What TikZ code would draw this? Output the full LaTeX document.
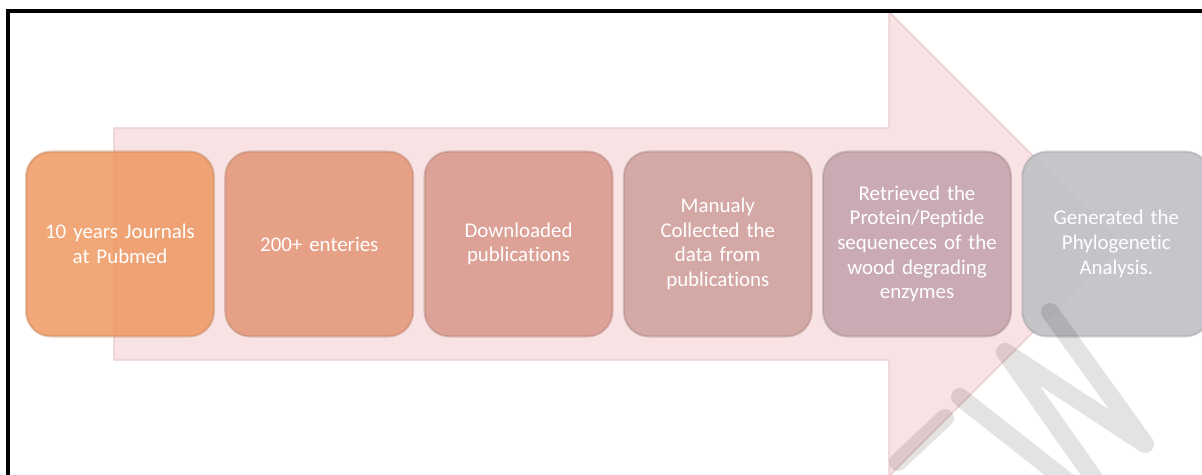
\documentclass[tikz,border=0pt]{standalone}
\usepackage{fontspec}
\setmainfont{Carlito}[Ligatures=NoCommon]
\usetikzlibrary{
  positioning
}
\definecolor{arrowpink}{HTML}{F9E2E3}
\definecolor{arrowedge}{HTML}{E9CDCE}
\definecolor{stageA}{HTML}{EF9D68}
\definecolor{stageB}{HTML}{E4997C}
\definecolor{stageC}{HTML}{D99B8F}
\definecolor{stageD}{HTML}{D0A29F}
\definecolor{stageE}{HTML}{C6A6AE}
\definecolor{stageF}{HTML}{C0BFC6}
\tikzset{
  % For the big arrow behind the stages.
  big arrow/.style={
    fill=arrowpink,
    draw=arrowedge,
    line width=0.8pt},
%
  % For the process stages.
  stagebox/.style={
    rectangle,
    rounded corners=0.5cm,
    fill=#1,
    draw=#1!75!black,
    line width=1.2pt,
    fill opacity=0.9,
    draw opacity=0.35,
    text opacity=1,
    text=white,
    minimum width=3.76cm,
    minimum height=3.7cm,
    text width=3.6cm,
    align=center,
    inner sep=0pt,
    outer sep=0pt,
    font=\fontsize{11.9pt}{14pt}\selectfont},
%
  % For the preview watermark.
  watermark/.style={
    line width=0.36cm,
    line cap=round,
    line join=round,
    draw=black!11,
    blend mode=multiply},
%
  % For the page frame.
  frame/.style={
    line width=0.08cm}
}

\begin{document}
\begin{tikzpicture}[x=0.02cm, y=-0.02cm]
  \useasboundingbox (0,0) rectangle (1202,474);
  \clip (0,0) rectangle (1202,474);

  \draw[big arrow] (114,128) -- (889,128) -- (889,12) -- (1121,244)
    -- (889,476) -- (889,360) -- (114,360) -- cycle;

  \node[stagebox=stageA] (S1) at (120,244) {10 years Journals\\ at Pubmed};
  \node[stagebox=stageB, right=0.226cm of S1] (S2) {200+ enteries};
  \node[stagebox=stageC, right=0.226cm of S2] (S3) {Downloaded\\ publications};
  \node[stagebox=stageD, right=0.226cm of S3] (S4)
    {Manualy\\ Collected the\\ data from\\ publications};
  \node[stagebox=stageE, right=0.226cm of S4] (S5)
    {Retrieved the\\ Protein/Peptide\\ sequeneces of the\\ wood degrading\\ enzymes};
  \node[stagebox=stageF, right=0.226cm of S5] (S6)
    {Generated the\\ Phylogenetic\\ Analysis.};

  \draw[watermark] (898,462) -- (945,418);
  \draw[watermark] (960,397) -- (1068,482);
  \draw[watermark] (1098,484) -- (1005,352) -- (1145,444) -- (1050,312);

  \draw[frame] (8,480) -- (8,11) -- (1210,11);
\end{tikzpicture}
\end{document}
